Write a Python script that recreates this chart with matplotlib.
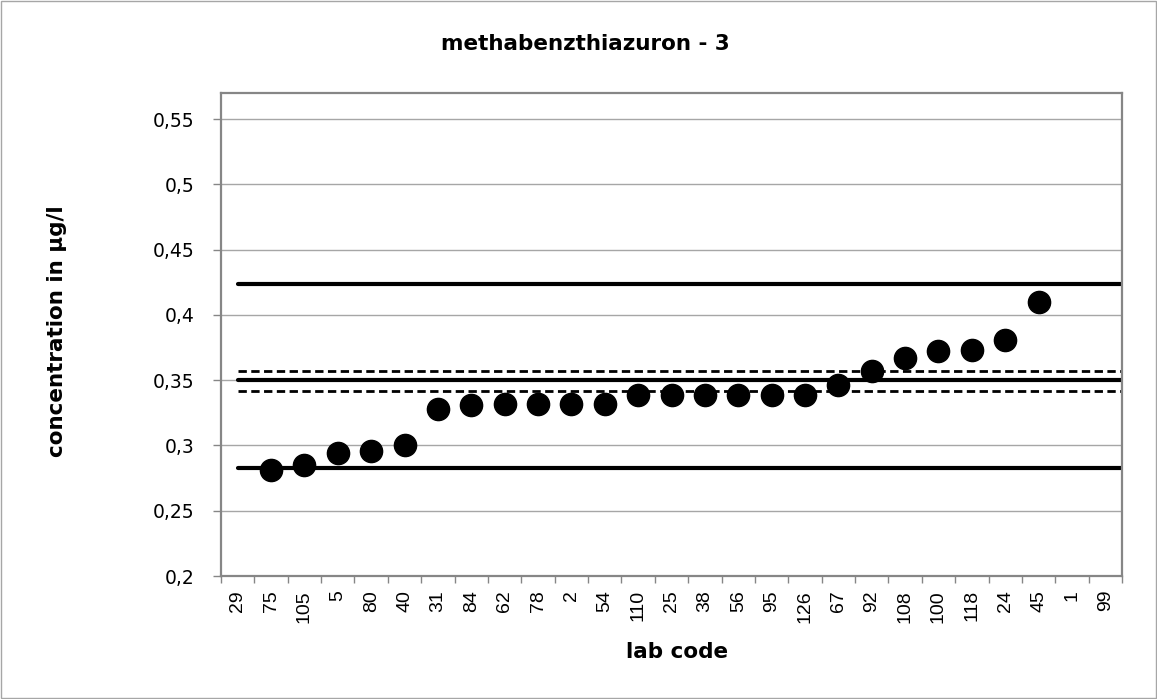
import matplotlib
matplotlib.use("Agg")
import matplotlib.pyplot as plt
from matplotlib.patches import Rectangle

lab_codes = ["29", "75", "105", "5", "80", "40", "31", "84", "62", "78", "2", "54", "110",
             "25", "38", "56", "95", "126", "67", "92", "108", "100", "118", "24", "45", "1", "99"]
values = [None, 0.281, 0.285, 0.294, 0.296, 0.300, 0.328, 0.331, 0.332, 0.332, 0.332, 0.332,
          0.339, 0.339, 0.339, 0.339, 0.339, 0.339, 0.346, 0.357, 0.367, 0.372, 0.373, 0.381,
          0.410, None, None]
ytick_values = [0.2, 0.25, 0.3, 0.35, 0.4, 0.45, 0.5, 0.55]
ytick_labels = ["0,2", "0,25", "0,3", "0,35", "0,4", "0,45", "0,5", "0,55"]
assigned = 0.350
upper_limit = 0.424
lower_limit = 0.2825
upper_unc = 0.357
lower_unc = 0.342

fig = plt.figure(figsize=(11.57, 6.99), dpi=100)
ax = fig.add_axes([221/1157, 1-576/699, (1122-221)/1157, (576-93)/699])

n = len(lab_codes)
xs = [i for i, v in enumerate(values) if v is not None]
ys = [v for v in values if v is not None]

for y in ytick_values[1:]:
    ax.axhline(y, color="#a6a6a6", lw=1.0, zorder=0)

x0, x1 = 0, n - 0.5
for y in [upper_limit, lower_limit, assigned]:
    ax.plot([x0, x1], [y, y], color="black", lw=3, solid_capstyle="round", zorder=2)
for y in [upper_unc, lower_unc]:
    ax.plot([x0, x1], [y, y], color="black", lw=2, dashes=(3, 1.6), zorder=2)

ax.plot(xs, ys, "o", color="black", markersize=16, zorder=3)

ax.set_xlim(-0.5, n - 0.5)
ax.set_ylim(0.2, 0.57)
ax.set_yticks(ytick_values)
ax.set_yticklabels(ytick_labels, fontsize=13.5, family="DejaVu Sans")
ax.set_xticks(range(n))
ax.set_xticklabels(lab_codes, rotation=90, fontsize=14, family="Liberation Sans")
ax.set_xticks([i - 0.5 for i in range(n + 1)], minor=True)
ax.tick_params(axis="x", which="major", length=0, pad=10)
ax.tick_params(axis="x", which="minor", length=5, width=1, color="#868686")
ax.tick_params(axis="y", length=6, width=1, color="#868686", pad=13)

for s in ax.spines.values():
    s.set_color("#868686")
    s.set_linewidth(1.6)

fig.text(677/1157, 1-652/699, "lab code", ha="center", va="center",
         fontsize=15.5, fontweight="bold", family="DejaVu Sans")
fig.text(57/1157, 1-331/699, "concentration in µg/l", ha="center", va="center", rotation=90,
         fontsize=15.5, fontweight="bold", family="DejaVu Sans")
fig.text(585/1157, 1-44/699, "methabenzthiazuron - 3", ha="center", va="center",
         fontsize=15.5, fontweight="bold", family="DejaVu Sans")

fig.patches.append(Rectangle((0.001, 0.001), 0.998, 0.998, transform=fig.transFigure,
                             fill=False, edgecolor="#a6a6a6", lw=1))

fig.savefig("out.png", dpi=100)
